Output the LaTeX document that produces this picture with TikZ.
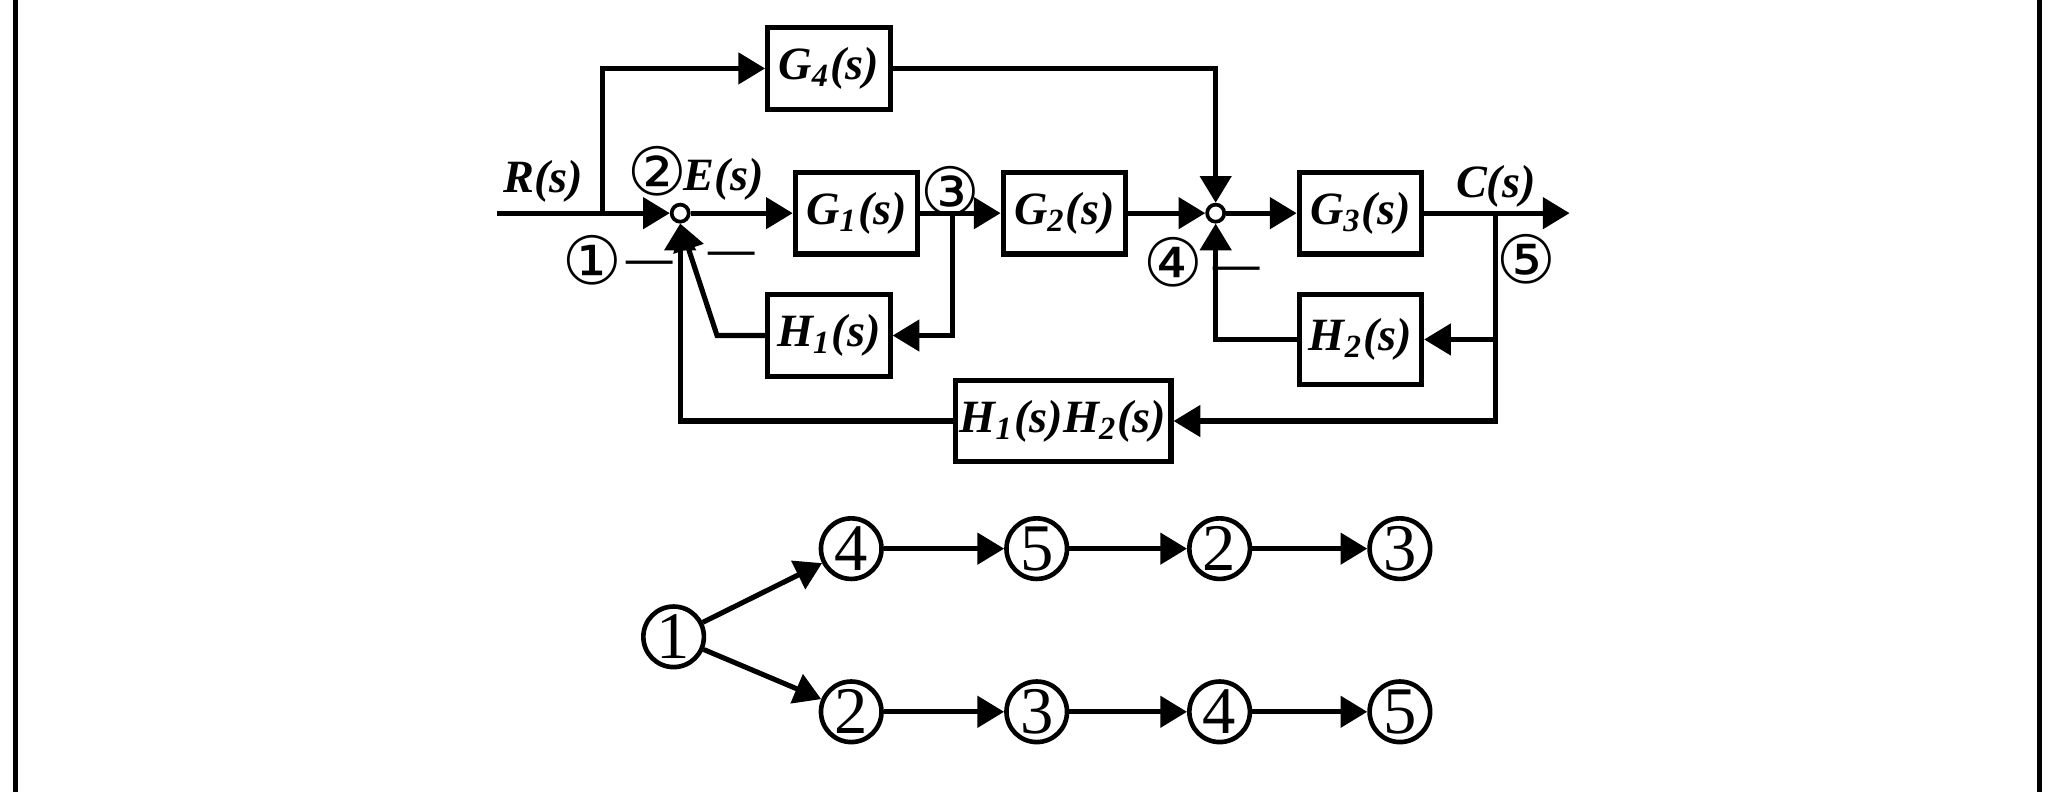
\documentclass[tikz,border=0pt]{standalone}
\usepackage{fontspec}
\setmainfont{Liberation Serif}
\newfontfamily\symfont{DejaVu Sans}
\usetikzlibrary{arrows.meta,positioning,calc}
\newcommand{\fn}[2]{#1\textsubscript{#2}(s)}
\begin{document}
\begin{tikzpicture}[
  x=0.01cm, y=-0.01cm,
  font=\bfseries\itshape\normalsize,
  >=Triangle,
  line width=1.1pt,
  block/.style={draw, minimum width=0.93cm, minimum height=0.62cm, inner sep=1pt},
  sum/.style={draw, circle, minimum size=0.13cm, inner sep=0pt, line width=0.8pt},
  arrow/.style={->, line width=1.1pt},
  pointlabel/.style={font=\symfont\Large, inner sep=0pt},
  state/.style={draw, circle, minimum size=0.46cm, inner sep=0pt, font=\Large, line width=1pt}
]
\useasboundingbox (0,0) rectangle (1568,602);
% ----- PAGE EDGES -----
\draw[line width=1pt] (12,0) -- (12,602);
\draw[line width=1pt] (1550,0) -- (1550,602);

% ----- BLOCKS -----
\node[block] (g4) at (630,52) {\fn{G}{4}};
\node[block] (g1) at (651,162) {\fn{G}{1}};
\node[block] (g2) at (809,162) {\fn{G}{2}};
\node[block] (g3) at (1034,162) {\fn{G}{3}};
\node[block] (h1) at (630,255) {\fn{H}{1}};
\node[block, minimum height=0.68cm] (h2) at (1034,258) {\fn{H}{2}};
\node[block, minimum width=1.55cm] (h12) at (808,320) {\fn{H}{1}\fn{H}{2}};

% ----- SUMMING POINTS -----
\node[sum] (s1) at (517,162) {};
\node[sum] (s2) at (924,162) {};

% ----- COORDINATES -----
\coordinate (in) at (378,162);
\coordinate (b1) at (458,162);
\coordinate (b3) at (724,162);
\coordinate (b5) at (1137,162);
\coordinate (out) at (1193,162);

% ----- FORWARD PATH -----
\draw (in) -- (b1);
\draw[arrow] (b1) -- (s1);
\draw[arrow] (s1) -- (g1);
\draw (g1) -- (b3);
\draw[arrow] (b3) -- (g2);
\draw[arrow] (g2) -- (s2);
\draw[arrow] (s2) -- (g3);
\draw[arrow] (g3) -- (out);
\draw[arrow] (b1) |- (g4);
\draw[arrow] (g4) -| (s2);

% ----- FEEDBACK -----
\draw[arrow] (b3) |- (h1);
\draw[arrow] (h1.west) -- (545,255) -- (s1.south);
\draw[arrow] (b5) |- (h2);
\draw[arrow] (h2) -| (s2);
\draw[arrow] (b5) |- (h12);
\draw[arrow] (h12) -| (s1);

% ----- LABELS -----
\node at (413,138) {R(s)};
\node at (550,136) {E(s)};
\node at (1137,142) {C(s)};
\node[pointlabel] at (500,130) {②};
\node[pointlabel] at (450,198) {①};
\node[pointlabel] at (722,145) {③};
\node[pointlabel] at (892,199) {④};
\node[pointlabel] at (1160,197) {⑤};
\node[font=\normalfont] at (494,203) {\textbf{—}};
\node[font=\normalfont] at (556,196) {\textbf{—}};
\node[font=\normalfont] at (940,208) {\textbf{—}};

% ----- SIGNAL FLOW ORDER -----
\node[state] (n1) at (512,484) {1};
\node[state] (u4) at (647,417) {4};
\node[state] (u5) at (788,417) {5};
\node[state] (u2) at (927,417) {2};
\node[state] (u3) at (1064,417) {3};
\node[state] (d2) at (647,541) {2};
\node[state] (d3) at (788,541) {3};
\node[state] (d4) at (927,541) {4};
\node[state] (d5) at (1064,541) {5};
\draw[arrow] (n1) -- (u4);
\draw[arrow] (u4) -- (u5);
\draw[arrow] (u5) -- (u2);
\draw[arrow] (u2) -- (u3);
\draw[arrow] (n1) -- (d2);
\draw[arrow] (d2) -- (d3);
\draw[arrow] (d3) -- (d4);
\draw[arrow] (d4) -- (d5);
\end{tikzpicture}
\end{document}
